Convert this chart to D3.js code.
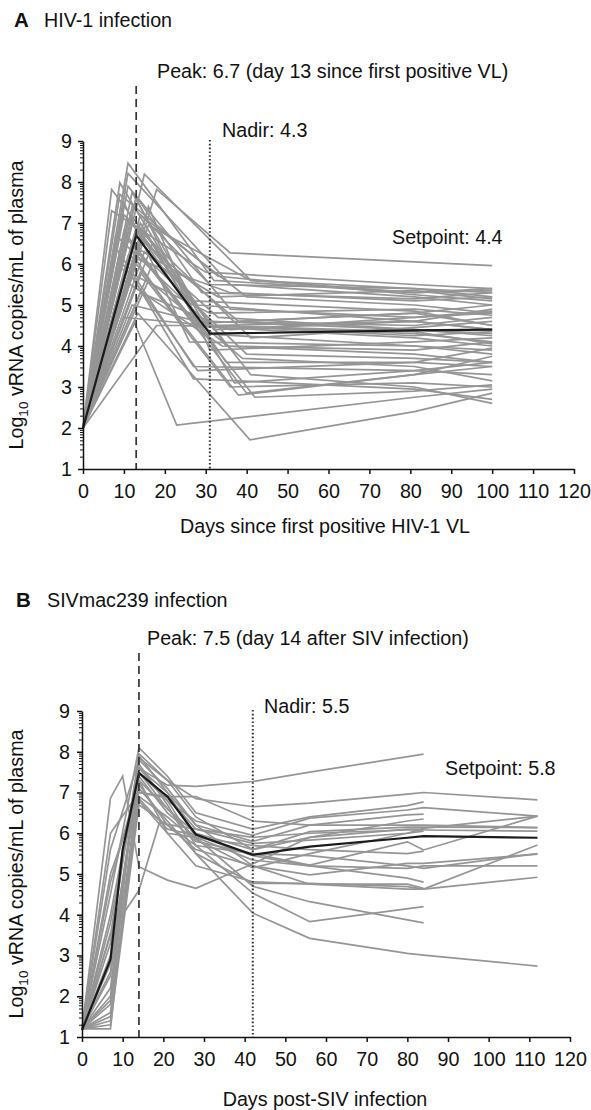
<!DOCTYPE html>
<html><head><meta charset="utf-8">
<script src="https://cdn.jsdelivr.net/npm/d3@7"></script>
<style>
body{margin:0;background:#fff}
svg{display:block;font-family:"Liberation Sans",Arial,Helvetica,sans-serif}
</style></head><body>
<svg id="c" width="591" height="1110"></svg>
<script>
// ---------- data ----------
const xTicks = [0,10,20,30,40,50,60,70,80,90,100,110,120];
const yTicks = [1,2,3,4,5,6,7,8,9];

const hivSubjects = [
 [[0,2],[11,8.46],[32,5.6],[81,5.3],[100,5.35]],
 [[0,2],[7,7.82],[28,5.0],[81,4.6],[100,4.4]],
 [[0,2],[9,7.98],[30,4.5],[81,4.3],[100,4.1]],
 [[0,2],[11,8.21],[36,5.5],[81,5.2],[100,5.0]],
 [[0,2],[15,8.19],[41,5.6],[81,5.4],[100,5.3]],
 [[0,2],[18,7.82],[36,6.27],[81,6.05],[100,5.96]],
 [[0,2],[13,7.6],[28,4.6],[81,4.5],[100,4.7]],
 [[0,2],[12,7.4],[31,5.5],[81,5.4],[100,5.2]],
 [[0,2],[10,7.5],[26,4.1],[81,4.0],[100,3.9]],
 [[0,2],[14,7.2],[40,5.2],[81,5.0],[100,4.8]],
 [[0,2],[12,7.0],[35,3.6],[81,3.6],[100,3.5]],
 [[0,2],[13,6.9],[32,4.4],[81,4.6],[100,4.9]],
 [[0,2],[16,6.95],[41,5.6],[81,5.3],[100,5.4]],
 [[0,2],[10,6.8],[29,4.3],[81,4.0],[100,3.8]],
 [[0,2],[14,6.6],[38,4.6],[81,4.8],[100,4.5]],
 [[0,2],[12,6.5],[42,2.75],[81,2.9],[100,3.05]],
 [[0,2],[8,6.4],[27,3.5],[81,3.4],[100,3.3]],
 [[0,2],[15,6.3],[33,4.7],[81,4.4],[100,4.3]],
 [[0,2],[11,6.2],[36,5.3],[81,5.1],[100,5.2]],
 [[0,2],[13,6.1],[24,4.5],[81,4.2],[100,4.0]],
 [[0,2],[17,6.0],[40,3.8],[81,3.7],[100,3.6]],
 [[0,2],[9,5.9],[31,4.8],[81,4.9],[100,4.75]],
 [[0,2],[14,5.8],[36,3.0],[81,3.1],[100,3.0]],
 [[0,2],[12,5.7],[27,3.2],[81,2.95],[100,2.7]],
 [[0,2],[10,5.6],[34,4.0],[81,3.8],[100,3.6]],
 [[0,2],[12.6,4.56],[22.9,2.07],[81,2.75],[100,2.95]],
 [[0,2],[13.4,4.8],[40.8,1.71],[81,2.4],[100,2.85]],
 [[0,2],[7,7.3],[30,5.8],[81,5.5],[100,5.4]],
 [[0,2],[9,7.7],[33,5.7],[81,5.25],[100,5.1]],
 [[0,2],[11,7.9],[36,4.9],[81,4.7],[100,4.85]],
 [[0,2],[13,7.65],[29,5.3],[81,5.15],[100,5.3]],
 [[0,2],[10,7.2],[41,4.2],[81,4.45],[100,4.6]],
 [[0,2],[16,7.4],[31,3.9],[81,4.1],[100,4.2]],
 [[0,2],[12,7.75],[27,5.1],[81,4.85],[100,4.5]],
 [[0,2],[14,7.0],[37,3.1],[81,3.4],[100,3.6]],
 [[0,2],[8,6.7],[31,4.5],[81,4.25],[100,4.35]],
 [[0,2],[11,6.6],[40,2.85],[81,3.3],[100,3.5]],
 [[0,2],[15,6.8],[35,4.0],[81,3.9],[100,4.1]],
 [[0,2],[13,6.4],[33,5.2],[81,5.35],[100,5.15]],
 [[0,2],[9,6.1],[28,3.4],[81,3.6],[100,3.95]],
 [[0,2],[14,5.3],[31,4.6],[81,4.4],[100,4.25]],
 [[0,2],[12,5.0],[36,4.4],[81,4.7],[100,4.8]],
 [[0,2],[16,5.6],[39,3.7],[81,3.5],[100,3.15]],
 [[0,2],[10,4.7],[31,4.5],[81,4.35],[100,4.05]],
 [[0,2],[17,6.5],[28,4.55],[81,4.8],[100,5.0]],
 [[0,2],[11,7.1],[41,3.3],[81,3.0],[100,2.6]],
 [[0,2],[13,6.0],[38,2.8],[81,3.3],[100,3.75]],
 [[0,2],[18,4.5],[31,4.5],[81,4.6],[100,4.4]]
];
const hivMean = [[0,2],[13,6.7],[31,4.3],[81,4.38],[100,4.4]];

const sivSubjects = [
 [[0,1.2],[7,2.5],[14,7.6],[21,7.18],[28,7.15],[42,7.27],[56,7.5],[84,7.94]],
 [[0,1.2],[7,3.5],[14,7.85],[21,7.3],[28,6.85],[42,6.65],[56,6.74],[80,6.96],[84,7.0],[112,6.82]],
 [[0,1.2],[7,4.5],[14,8.1],[21,7.4],[28,6.5],[42,6.1],[56,6.4],[80,6.68],[84,6.77]],
 [[0,1.2],[7,1.2],[14,7.5],[21,6.8],[28,6.3],[42,5.95],[56,6.37],[80,6.57],[84,6.63],[112,6.42]],
 [[0,1.2],[7,4.0],[14,7.6],[21,7.0],[28,6.2],[42,5.8],[56,6.2],[80,6.45],[84,6.47]],
 [[0,1.2],[7,3.0],[14,7.3],[21,6.6],[28,6.0],[42,5.6],[56,6.04],[80,6.15],[84,6.15],[112,6.14]],
 [[0,1.2],[7,5.0],[14,7.0],[21,6.9],[28,6.1],[42,5.9],[56,6.0],[80,6.08],[84,6.08],[112,6.05]],
 [[0,1.2],[7,1.5],[14,6.9],[21,6.4],[28,5.8],[42,5.5],[56,5.22],[80,5.79],[84,5.59],[112,6.42]],
 [[0,1.2],[7,2.0],[14,7.2],[21,6.2],[28,5.6],[42,5.2],[56,4.98],[80,5.26],[84,5.26],[112,5.49]],
 [[0,1.2],[7,3.8],[14,7.4],[21,6.5],[28,5.9],[42,5.34],[56,5.2],[80,5.14],[84,5.2],[112,5.2]],
 [[0,1.2],[7,1.8],[14,6.8],[21,6.0],[28,5.2],[42,4.81],[56,4.75],[80,4.63],[84,4.63],[112,5.71]],
 [[0,1.2],[7,1.4],[14,7.1],[21,6.3],[28,5.5],[42,4.77],[56,4.77],[80,4.69],[84,4.63],[112,4.92]],
 [[0,1.2],[7,3.3],[14,7.9],[21,7.0],[28,5.9],[42,4.7],[56,4.32],[84,3.8]],
 [[0,1.2],[7,2.8],[14,7.6],[21,6.8],[28,5.7],[42,4.53],[56,3.83],[84,4.2]],
 [[0,1.2],[7,2.2],[14,7.7],[21,6.7],[28,5.5],[42,4.04],[56,3.42],[80,3.05],[84,3.01],[112,2.74]],
 [[0,1.2],[7,6.86],[10,7.4],[14,5.18],[21,4.85],[28,4.65],[42,5.25],[56,5.9],[80,6.3],[84,6.35]],
 [[0,1.2],[7,3.55],[14,4.6],[19,6.25],[28,6.1],[42,5.75],[56,5.83],[80,6.0],[84,6.12],[112,6.42]],
 [[0,1.2],[7,6.0],[14,7.0],[19,6.9],[28,6.9],[42,6.3],[56,6.2],[80,6.2],[84,6.2],[112,6.14]],
 [[0,1.2],[7,4.8],[14,7.3],[21,6.0],[28,5.9],[42,5.7],[56,5.6],[80,5.5],[84,5.56]],
 [[0,1.2],[7,2.6],[14,7.5],[21,6.6],[28,5.85],[42,5.15],[56,5.5],[80,6.0],[84,6.05]],
 [[0,1.2],[7,1.3],[14,6.7],[21,6.2],[28,5.7],[42,5.5],[56,5.45],[80,5.2],[84,5.14],[112,5.5]],
 [[0,1.2],[7,5.6],[14,7.8],[21,7.1],[28,6.2],[42,5.2],[56,4.75],[80,4.75],[84,4.65]],
 [[0,1.2],[7,1.9],[14,7.95],[21,7.3],[28,6.4],[42,5.6],[56,5.9],[80,6.1],[84,6.1]],
 [[0,1.2],[7,1.6],[14,6.85],[21,6.1],[28,5.95],[42,5.45],[56,5.2],[80,4.9],[84,4.8]]
];
const sivMean = [[0,1.17],[7,2.9],[10,5.6],[14,7.48],[21,6.9],[28,5.97],[42,5.47],[56,5.67],[80,5.89],[84,5.93],[112,5.89]];

// ---------- drawing ----------
const svg = d3.select("#c");
const FS = 19.7;
const gray = "#959595";

function minorTicks(){
  const m = [];
  for (let d = 1; d < 9; d++) for (let k = 2; k <= 9; k++) m.push(d + Math.log10(k));
  return m;
}

function panel(o){
  const x = d3.scaleLinear([0,120],[o.x0,o.x1]);
  const y = d3.scaleLinear([1,9],[o.yb,o.yt]);
  const g = svg.append("g");
  const line = d3.line().x(d=>x(d[0])).y(d=>y(d[1]));

  g.append("g").selectAll("path").data(o.subjects).join("path")
    .attr("d", line).attr("fill","none").attr("stroke",gray)
    .attr("stroke-width",1.7).attr("stroke-linejoin","miter");
  g.append("path").datum(o.mean).attr("d",line).attr("fill","none")
    .attr("stroke","#1a1a1a").attr("stroke-width",2.2);

  g.append("line").attr("x1",x(o.peakDay)).attr("x2",x(o.peakDay))
    .attr("y1",o.dashTop).attr("y2",y(1))
    .attr("stroke","#333").attr("stroke-width",1.7).attr("stroke-dasharray","8,5");
  g.append("line").attr("x1",x(o.nadirDay)).attr("x2",x(o.nadirDay))
    .attr("y1",o.dotTop).attr("y2",y(1))
    .attr("stroke","#333").attr("stroke-width",2).attr("stroke-dasharray","1.6,2.2");

  const xa = g.append("g").attr("transform",`translate(0,${y(1)})`)
    .call(d3.axisBottom(x).tickValues(xTicks).tickSize(5).tickPadding(10).tickSizeOuter(0));
  const ya = g.append("g").attr("transform",`translate(${x(0)},0)`)
    .call(d3.axisLeft(y).tickValues(yTicks).tickSize(5).tickPadding(o.ypad).tickSizeOuter(0));
  const ym = g.append("g").attr("transform",`translate(${x(0)},0)`)
    .call(d3.axisLeft(y).tickValues(minorTicks()).tickSize(3).tickFormat(""));
  ym.select(".domain").remove();
  [xa,ya,ym].forEach(a=>{
    a.selectAll("path,line").attr("stroke","#111").attr("stroke-width",1.5);
    a.selectAll("text").attr("font-size",FS).attr("font-family",'"Liberation Sans",Arial,sans-serif').attr("fill","#111");
  });
  ym.selectAll("line").attr("stroke-width",1);

  g.append("text").attr("x",o.xTitleX).attr("y",o.xTitleY).attr("text-anchor","middle")
    .attr("font-size",FS).attr("fill","#111").text(o.xTitle);
  const yl = g.append("text").attr("transform",`translate(23,${(y(1)+y(9))/2}) rotate(-90)`)
    .attr("text-anchor","middle").attr("font-size",FS).attr("fill","#111");
  yl.append("tspan").text("Log");
  yl.append("tspan").attr("font-size",13.5).attr("dy",5).text("10");
  yl.append("tspan").attr("dy",-5).text(" vRNA copies/mL of plasma");

  const t = g.append("text").attr("y",o.titleY).attr("font-size",FS).attr("fill","#111");
  t.append("tspan").attr("x",o.letterX).attr("font-weight","bold").attr("font-size",20.5).text(o.letter);
  t.append("tspan").attr("x",o.titleX).text(o.title);

  g.append("text").attr("x",o.peakTX).attr("y",o.peakTY).attr("font-size",FS).attr("fill","#111").text(o.peakText);
  g.append("text").attr("x",o.nadirTX).attr("y",o.nadirTY).attr("font-size",FS).attr("fill","#111").text(o.nadirText);
  g.append("text").attr("x",o.setTX).attr("y",o.setTY).attr("font-size",FS).attr("fill","#111").text(o.setText);
}

panel({
  x0:83, x1:574, yb:469, yt:141, ypad:6,
  subjects:hivSubjects, mean:hivMean,
  peakDay:13, nadirDay:31, dashTop:86, dotTop:140,
  xTitle:"Days since first positive HIV-1 VL", xTitleX:325, xTitleY:533,
  letter:"A", letterX:14, title:"HIV-1 infection", titleX:44, titleY:27,
  peakText:"Peak: 6.7 (day 13 since first positive VL)", peakTX:157, peakTY:78,
  nadirText:"Nadir: 4.3", nadirTX:222, nadirTY:137,
  setText:"Setpoint: 4.4", setTX:392, setTY:244
});
panel({
  x0:82, x1:570, yb:1037, yt:711, ypad:7,
  subjects:sivSubjects, mean:sivMean,
  peakDay:14, nadirDay:42, dashTop:653, dotTop:710,
  xTitle:"Days post-SIV infection", xTitleX:325, xTitleY:1106,
  letter:"B", letterX:16, title:"SIVmac239 infection", titleX:47, titleY:607,
  peakText:"Peak: 7.5 (day 14 after SIV infection)", peakTX:147, peakTY:645,
  nadirText:"Nadir: 5.5", nadirTX:264, nadirTY:713,
  setText:"Setpoint: 5.8", setTX:445, setTY:775
});
</script>
</body></html>
